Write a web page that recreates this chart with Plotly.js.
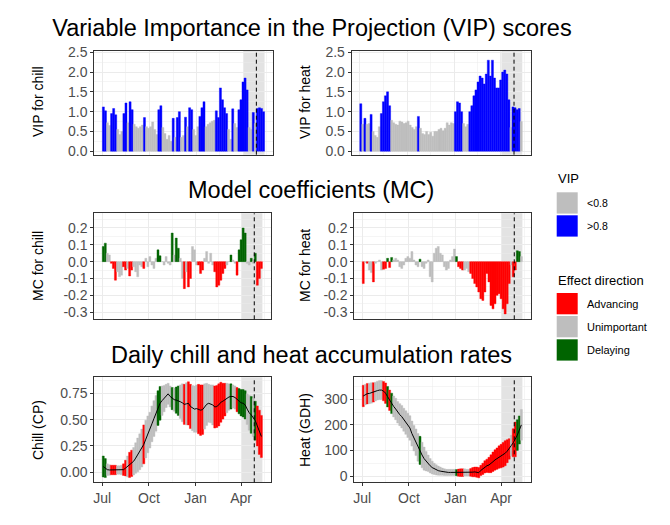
<!DOCTYPE html>
<html>
<head>
<meta charset="utf-8">
<script src="https://cdn.plot.ly/plotly-3.0.1.min.js"></script>
<style>html,body{margin:0;padding:0;background:#fff;}#chart{width:670px;height:525px;}</style>
</head>
<body>
<div id="chart"></div>
<script>
// ---- DATA (4-day bins, day 0 = 1 July) ----
const binStartDay = [0,4,8,12,16,20,24,28,32,36,40,44,48,52,56,60,64,68,72,76,80,84,88,92,96,100,104,108,112,116,120,124,128,132,136,140,144,148,152,156,160,164,168,172,176,180,184,188,192,196,200,204,208,212,216,220,224,228,232,236,240,244,248,252,256,260,264,268,272,276,280,284,288,292,296,300,304,308,312];
const monthTicks = [0, 92, 184, 274];
const monthLabels = ["Jul", "Oct", "Jan", "Apr"];

const vipChill = [1.12,1.02,0.72,0.65,0.95,1.08,0.92,0.55,0.42,0.5,
  0.95,1.22,0.72,1.25,1.05,0.68,0.62,0.58,0.62,0.66,
  0.85,0.62,0.58,0.62,0.74,0.55,0.42,1.05,1.15,0.6,
  0.45,0.3,0.4,0.25,0.83,0.35,0.85,1.0,0.35,0.4,
  0.86,0.62,1.1,1.05,0.55,0.4,0.62,0.88,1.1,1.25,
  0.62,0.68,0.72,0.76,0.78,1.02,0.85,1.6,1.3,1.1,
  0.95,0.55,0.3,1.07,0.7,0.6,1.05,1.3,1.75,1.85,
  1.55,0.6,0.55,0.98,0.7,1.08,1.1,1.08,1.0];
const vipHeat = [1.2,0.68,0.83,0.68,0.7,0.93,0.5,0.4,0.35,0.62,
  0.95,1.25,1.4,1.5,1.15,0.78,0.72,0.68,0.66,0.76,
  0.74,0.7,0.72,0.76,0.66,0.6,0.55,0.62,0.88,0.58,
  0.45,0.42,0.5,0.42,0.48,0.38,0.5,0.5,0.55,0.58,
  0.52,0.58,0.72,0.66,0.72,0.7,1.0,1.25,1.22,1.0,
  0.7,0.62,0.68,1.0,1.15,1.4,1.55,1.75,1.9,1.85,
  1.7,1.95,2.3,1.9,2.3,1.85,1.6,1.6,1.8,2.0,
  2.05,1.95,1.3,0.6,1.12,1.1,1.05,1.08,0.75];
const mcChill = [0.09,0.11,0.05,0.04,-0.01,-0.04,-0.11,-0.06,-0.09,-0.08,
  -0.03,-0.05,-0.04,-0.085,-0.05,-0.03,-0.06,-0.09,-0.02,-0.03,
  -0.04,0.02,-0.03,0.03,-0.02,-0.04,0.02,0.07,0.035,0.0,
  -0.02,0.03,-0.01,-0.02,0.17,0.04,0.14,0.08,0.02,-0.1,
  -0.16,-0.06,-0.15,-0.1,0.09,0.07,-0.02,-0.02,-0.07,-0.05,
  0.02,0.06,-0.01,0.05,-0.02,-0.06,-0.15,-0.14,-0.11,-0.07,
  -0.04,-0.02,0.0,0.04,0.01,-0.01,-0.08,0.07,0.13,0.2,
  0.17,-0.01,-0.02,0.02,-0.01,0.05,-0.14,-0.1,-0.04];
const mcHeat = [-0.13,-0.005,-0.01,-0.05,-0.065,-0.12,-0.01,0.0,0.01,-0.05,
  -0.045,-0.04,0.02,-0.035,0.025,0.01,0.02,0.01,-0.03,-0.04,
  -0.02,0.02,0.03,0.02,0.06,0.01,-0.02,-0.03,0.015,-0.03,
  -0.04,-0.01,0.01,-0.09,-0.12,0.05,0.08,0.09,0.05,0.04,
  -0.03,-0.05,-0.04,0.01,0.03,0.075,0.03,-0.03,-0.04,-0.05,
  -0.05,-0.04,-0.06,-0.07,-0.1,-0.13,-0.15,-0.18,-0.22,-0.23,
  -0.18,-0.07,-0.12,-0.26,-0.28,-0.25,-0.2,-0.19,-0.22,-0.28,
  -0.31,-0.25,-0.13,-0.02,-0.09,-0.05,0.065,0.06,0.03];
const chillMean = [0.055,0.04,0.025,0.022,0.022,0.022,0.022,0.022,0.022,0.022,
  0.025,0.04,0.055,0.07,0.085,0.105,0.135,0.165,0.195,0.23,
  0.265,0.315,0.36,0.4,0.46,0.51,0.56,0.61,0.655,0.68,
  0.7,0.725,0.745,0.72,0.7,0.69,0.685,0.68,0.67,0.66,
  0.645,0.65,0.655,0.625,0.61,0.6,0.605,0.6,0.59,0.595,
  0.625,0.645,0.655,0.65,0.64,0.62,0.625,0.64,0.665,0.675,
  0.69,0.705,0.715,0.72,0.72,0.71,0.69,0.675,0.66,0.655,
  0.64,0.6,0.565,0.545,0.52,0.49,0.44,0.38,0.34];
const chillSd = [0.1,0.09,0.055,0.05,0.045,0.045,0.045,0.04,0.04,0.045,
  0.055,0.075,0.1,0.12,0.125,0.13,0.145,0.16,0.17,0.18,
  0.185,0.18,0.175,0.17,0.17,0.17,0.17,0.165,0.16,0.14,
  0.125,0.11,0.1,0.1,0.105,0.11,0.125,0.14,0.16,0.18,
  0.19,0.2,0.205,0.21,0.215,0.22,0.225,0.235,0.24,0.235,
  0.215,0.2,0.18,0.18,0.19,0.2,0.2,0.2,0.19,0.17,
  0.155,0.14,0.125,0.12,0.11,0.11,0.115,0.12,0.125,0.13,
  0.135,0.145,0.165,0.175,0.18,0.185,0.19,0.21,0.2];
const heatMean = [313,318,322,323,325,327,330,334,336,336,
  332,324,310,296,284,272,262,249,240,232,
  220,209,198,188,166,148,132,112,100,82,
  68,58,50,40,33,28,24,21,19,17,
  15,14,14,14,14,14,13,13,13,13,
  14,13,13,14,15,16,15,13,22,28,
  36,40,43,48,56,63,68,74,78,83,
  89,97,106,119,130,143,160,180,200];
const heatSd = [42,40,40,40,40,38,37,37,37,37,
  38,40,40,40,40,41,42,42,43,44,
  45,46,47,48,49,50,52,54,55,50,
  45,38,32,28,25,22,20,18,16,14,
  13,12,12,12,12,12,12,14,15,15,
  14,13,13,15,18,19,20,20,20,22,
  24,26,30,35,38,40,42,44,46,48,
  49,45,40,40,55,68,60,55,60];

const bloomRange = [275.5, 316];
const bloomMean = 300;

// ---- helpers ----
const GREY = '#BEBEBE', BLUE = '#0000FF', RED = '#FF0000', GREEN = '#006400';
const FONT = 'Liberation Sans, Arial, sans-serif';
const W = 670, H = 525;
const px = x => x / W;
const py = y => 1 - y / H;
const binCenter = binStartDay.map(d => d + 2);
const vipCol = v => v.map(x => x > 0.8 ? BLUE : GREY);
const effCol = (v, m) => v.map((x, i) => x > 0.8 ? (m[i] < 0 ? RED : GREEN) : GREY);

function bars(y, colors, xa, ya, base) {
  const t = {type: 'bar', x: binCenter, y: y, width: 4, xaxis: xa, yaxis: ya,
    marker: {color: colors, line: {color: colors, width: 0.4}}, hoverinfo: 'skip', showlegend: false};
  if (base) t.base = base;
  return t;
}

const cChill = effCol(vipChill, mcChill);
const cHeat = effCol(vipHeat, mcHeat);

const traces = [
  bars(vipChill, vipCol(vipChill), 'x', 'y'),
  bars(vipHeat, vipCol(vipHeat), 'x2', 'y2'),
  bars(mcChill, cChill, 'x3', 'y3'),
  bars(mcHeat, cHeat, 'x4', 'y4'),
  bars(chillSd.map(s => 2 * s), cChill, 'x5', 'y5', chillMean.map((m, i) => m - chillSd[i])),
  bars(heatSd.map(s => 2 * s), cHeat, 'x6', 'y6', heatMean.map((m, i) => m - heatSd[i])),
  {type: 'scatter', mode: 'lines', x: binCenter, y: chillMean, xaxis: 'x5', yaxis: 'y5',
    line: {color: '#000', width: 1}, hoverinfo: 'skip', showlegend: false},
  {type: 'scatter', mode: 'lines', x: binCenter, y: heatMean, xaxis: 'x6', yaxis: 'y6',
    line: {color: '#000', width: 1}, hoverinfo: 'skip', showlegend: false}
];

const panels = [
  {x: [94.3, 273.3], y: [50.7, 154.7], yr: [-0.088, 2.54], tv: [0,0.5,1,1.5,2,2.5], tt: ['0.0','0.5','1.0','1.5','2.0','2.5'], md: 0.25, bottom: false},
  {x: [351.7, 531], y: [50.7, 154.7], yr: [-0.088, 2.54], tv: [0,0.5,1,1.5,2,2.5], tt: ['0.0','0.5','1.0','1.5','2.0','2.5'], md: 0.25, bottom: false},
  {x: [94.3, 271], y: [213.3, 319.3], yr: [-0.342, 0.287], tv: [-0.3,-0.2,-0.1,0,0.1,0.2], tt: ['-0.3','-0.2','-0.1','0.0','0.1','0.2'], md: 0.05, bottom: false},
  {x: [354.3, 531], y: [213.3, 319.3], yr: [-0.342, 0.287], tv: [-0.3,-0.2,-0.1,0,0.1,0.2], tt: ['-0.3','-0.2','-0.1','0.0','0.1','0.2'], md: 0.05, bottom: false},
  {x: [94.3, 271], y: [377.3, 482.3], yr: [-0.095, 0.902], tv: [0,0.25,0.5,0.75], tt: ['0.00','0.25','0.50','0.75'], md: 0.125, bottom: true},
  {x: [354.3, 531], y: [377.3, 482.3], yr: [-24.6, 386], tv: [0,100,200,300], tt: ['0','100','200','300'], md: 50, bottom: true}
];

const layout = {
  width: W, height: H, margin: {l: 0, r: 0, t: 0, b: 0},
  paper_bgcolor: '#fff', plot_bgcolor: 'rgba(0,0,0,0)',
  font: {family: FONT, color: '#000'},
  showlegend: false, bargap: 0,
  title: {text: 'Variable Importance in the Projection (VIP) scores', x: px(312), y: py(28), xref: 'paper', yref: 'paper',
    xanchor: 'center', yanchor: 'middle', font: {size: 23.5, color: '#000', family: FONT}},
  shapes: [], annotations: []
};

panels.forEach((p, i) => {
  const n = i === 0 ? '' : String(i + 1);
  const axCommon = {showline: true, mirror: true, linecolor: '#333333', linewidth: 1,
    showgrid: true, gridcolor: '#EBEBEB', gridwidth: 1, zeroline: false, fixedrange: true,
    tickfont: {size: 14, color: '#4D4D4D', family: FONT}, tickcolor: '#333333', ticklen: 3, tickwidth: 1};
  layout['xaxis' + n] = Object.assign({}, axCommon, {
    domain: [px(p.x[0]), px(p.x[1])], range: [-15.7, 333], anchor: 'y' + n,
    tickmode: 'array', tickvals: monthTicks, ticktext: monthLabels,
    showticklabels: p.bottom, ticks: p.bottom ? 'outside' : '',
    minor: {tickmode: 'array', tickvals: [46, 138, 229, 320], showgrid: true, gridcolor: '#EBEBEB', gridwidth: 0.5, ticks: ''}
  });
  layout['yaxis' + n] = Object.assign({}, axCommon, {
    domain: [py(p.y[1]), py(p.y[0])], range: p.yr, anchor: 'x' + n,
    tickmode: 'array', tickvals: p.tv, ticktext: p.tt, ticks: 'outside',
    minor: {dtick: p.md, tick0: 0, showgrid: true, gridcolor: '#EBEBEB', gridwidth: 0.5, ticks: ''}
  });
  layout.shapes.push({type: 'rect', xref: 'x' + n, yref: 'y' + n + ' domain', x0: bloomRange[0], x1: bloomRange[1], y0: 0, y1: 1,
    fillcolor: '#E3E3E3', line: {width: 0}, layer: 'below'});
  layout.shapes.push({type: 'line', xref: 'x' + n, yref: 'y' + n + ' domain', x0: bloomMean, x1: bloomMean, y0: 0, y1: 1,
    line: {color: '#000', width: 1, dash: '4px,3px'}, layer: 'above'});
});

// axis titles
const axTitles = [
  ['VIP for chill', 38, 102], ['VIP for heat', 305, 102],
  ['MC for chill', 38, 266], ['MC for heat', 305, 266],
  ['Chill (CP)', 38, 430], ['Heat (GDH)', 305, 430]
];
axTitles.forEach(a => layout.annotations.push({text: a[0], x: px(a[1]), y: py(a[2]), xref: 'paper', yref: 'paper',
  showarrow: false, textangle: -90, xanchor: 'center', yanchor: 'middle', font: {size: 14, color: '#000', family: FONT}}));

// section titles
[['Model coefficients (MC)', 311, 190], ['Daily chill and heat accumulation rates', 311, 355]].forEach(t =>
  layout.annotations.push({text: t[0], x: px(t[1]), y: py(t[2]), xref: 'paper', yref: 'paper', showarrow: false,
    xanchor: 'center', yanchor: 'middle', font: {size: 23.5, color: '#000', family: FONT}}));

// legends (drawn)
const legendGroups = [
  {title: 'VIP', ty: 178, items: [['<0.8', GREY, 192.3], ['>0.8', BLUE, 215.3]], fs: 10.5},
  {title: 'Effect direction', ty: 280, items: [['Advancing', RED, 293], ['Unimportant', GREY, 316], ['Delaying', GREEN, 339.3]], fs: 11}
];
legendGroups.forEach(g => {
  layout.annotations.push({text: g.title, x: px(556), y: py(g.ty), xref: 'paper', yref: 'paper', showarrow: false,
    xanchor: 'left', yanchor: 'middle', font: {size: 13, color: '#000', family: FONT}});
  g.items.forEach(it => {
    layout.shapes.push({type: 'rect', xref: 'paper', yref: 'paper', x0: px(556.7), x1: px(577.7), y0: py(it[2] + 21.3), y1: py(it[2]),
      fillcolor: it[1], line: {width: 0}, layer: 'above'});
    layout.annotations.push({text: it[0], x: px(585), y: py(it[2] + 10.8), xref: 'paper', yref: 'paper', showarrow: false,
      xanchor: 'left', yanchor: 'middle', font: {size: g.fs, color: '#000', family: FONT}});
  });
});

Plotly.newPlot('chart', traces, layout, {staticPlot: true, displayModeBar: false});
</script>
</body>
</html>
